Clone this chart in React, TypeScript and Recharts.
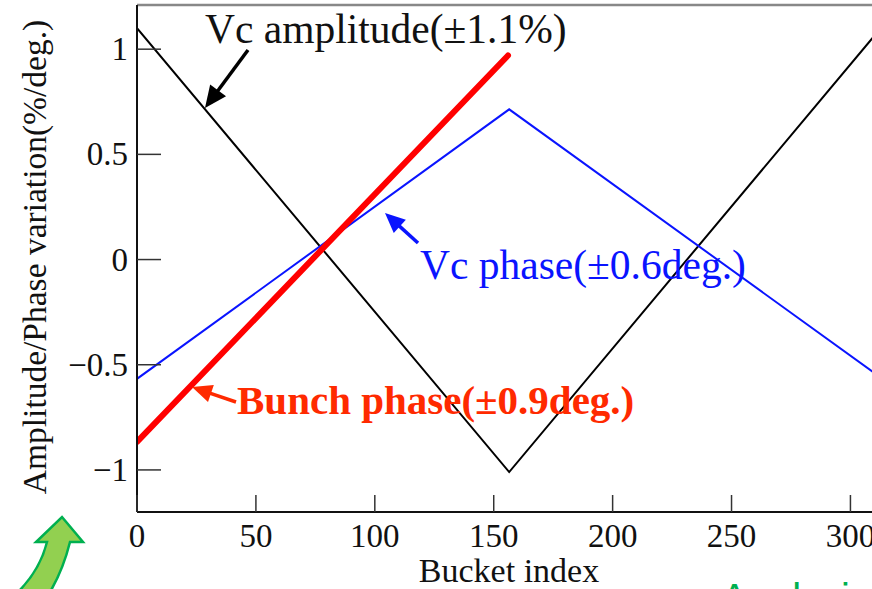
import React from "react";
import { LineChart, Line, XAxis, YAxis, ReferenceLine } from "recharts";

// values (bucket index -> variation in % or deg.)
const bucketTicks = [0, 50, 100, 150, 200, 250, 300];
const variationTicks = [-1, -0.5, 0, 0.5, 1];

const amplitudeBucket = [0, 156.5, 312];
const amplitudeValue = [1.1, -1.01, 1.09];

const vcPhaseBucket = [0, 156.5, 312];
const vcPhaseValue = [-0.567, 0.714, -0.555];

const bunchPhaseBucket = [0, 156];
const bunchPhaseValue = [-0.867, 0.97];

const SERIF = "'Liberation Serif', 'DejaVu Serif', serif";

const toPoints = (xs: number[], ys: number[]) => xs.map((x, i) => ({ x, y: ys[i] }));

const fmt = (v: number) => (v < 0 ? "\u2212" + Math.abs(v) : String(v));

function YTick(props: any) {
  const { x, y, payload } = props;
  return (
    <g>
      <line x1={x + 9} x2={x + 33} y1={y} y2={y} stroke="#333" strokeWidth={1.5} />
      <text x={x} y={y} dy={11} textAnchor="end" fontFamily={SERIF} fontSize={33} fill="#111">
        {fmt(payload.value)}
      </text>
    </g>
  );
}

function XTick(props: any) {
  const { x, y, payload } = props;
  return (
    <g>
      <line x1={x} x2={x} y1={y - 8} y2={y - 25} stroke="#333" strokeWidth={1.5} />
      <text x={x} y={y} dy={27} textAnchor="middle" fontFamily={SERIF} fontSize={33} fill="#111">
        {payload.value}
      </text>
    </g>
  );
}

function Arrow({ x1, y1, x2, y2, color, width, head }: any) {
  const dx = x2 - x1;
  const dy = y2 - y1;
  const len = Math.hypot(dx, dy);
  const ux = dx / len;
  const uy = dy / len;
  const bx = x2 - ux * head;
  const by = y2 - uy * head;
  const hw = head * 0.45;
  return (
    <g>
      <line x1={x1} y1={y1} x2={bx + ux * 2} y2={by + uy * 2} stroke={color} strokeWidth={width} />
      <polygon
        points={`${x2},${y2} ${bx - uy * hw},${by + ux * hw} ${bx + uy * hw},${by - ux * hw}`}
        fill={color}
      />
    </g>
  );
}

export default function App() {
  return (
    <div
      style={{
        position: "fixed",
        left: 0,
        top: 0,
        width: 872,
        height: 589,
        overflow: "hidden",
        background: "#fff",
      }}
    >
      <LineChart width={900} height={589} margin={{ top: 5, right: 2, left: 0, bottom: 0 }}>
        <XAxis
          dataKey="x"
          type="number"
          domain={[0, 320]}
          ticks={bucketTicks}
          height={77}
          tickSize={0}
          tickMargin={8}
          tickLine={false}
          tick={<XTick />}
          axisLine={{ stroke: "#111", strokeWidth: 2 }}
          allowDataOverflow
        />
        <YAxis
          type="number"
          domain={[-1.2, 1.21]}
          ticks={variationTicks}
          width={137}
          tickSize={0}
          tickMargin={9}
          tickLine={false}
          tick={<YTick />}
          axisLine={{ stroke: "#111", strokeWidth: 2 }}
          allowDataOverflow
        />
        <ReferenceLine y={1.21} stroke="#888" strokeWidth={2.5} />
        <Line
          data={toPoints(amplitudeBucket, amplitudeValue)}
          dataKey="y"
          type="linear"
          stroke="#000"
          strokeWidth={2}
          dot={false}
          isAnimationActive={false}
        />
        <Line
          data={toPoints(vcPhaseBucket, vcPhaseValue)}
          dataKey="y"
          type="linear"
          stroke="#0a14ff"
          strokeWidth={2}
          dot={false}
          isAnimationActive={false}
        />
        <Line
          data={toPoints(bunchPhaseBucket, bunchPhaseValue)}
          dataKey="y"
          type="linear"
          stroke="#ff0000"
          strokeWidth={6}
          strokeLinecap="round"
          dot={false}
          isAnimationActive={false}
        />
      </LineChart>
      <svg
        width={872}
        height={589}
        style={{ position: "absolute", left: 0, top: 0, pointerEvents: "none" }}
      >
        <text
          transform="translate(46,257) rotate(-90)"
          textAnchor="middle"
          fontFamily={SERIF}
          fontSize={33.5}
          fill="#111"
        >
          Amplitude/Phase variation(%/deg.)
        </text>
        <text x={509} y={582} textAnchor="middle" fontFamily={SERIF} fontSize={34} fill="#111">
          Bucket index
        </text>

        <text x={205} y={43} fontFamily={SERIF} fontSize={41.5} fill="#111">
          Vc amplitude(±1.1%)
        </text>
        <Arrow x1={248} y1={50} x2={205} y2={108} color="#000" width={3.5} head={22} />

        <text x={420} y={279} fontFamily={SERIF} fontSize={41.5} fill="#0a14ff">
          Vc phase(±0.6deg.)
        </text>
        <Arrow x1={418} y1={243} x2={385} y2={213} color="#0a14ff" width={3.5} head={20} />

        <text x={237} y={414} fontFamily={SERIF} fontSize={41} fontWeight="bold" fill="#ff2a00">
          Bunch phase(±0.9deg.)
        </text>
        <Arrow x1={236} y1={402} x2={192} y2={387} color="#ff2a00" width={3.5} head={20} />

        <path
          d="M62,517 L83,542 L70,542 Q63,570 50,592 L18,592 Q40,570 47,542 L36,542 Z"
          fill="#92d050"
          stroke="#00b050"
          strokeWidth={2.5}
        />
        <text x={721} y={612} fontFamily="'Liberation Sans', Arial, sans-serif" fontSize={40} fill="#00b050">
          Analysis
        </text>
      </svg>
    </div>
  );
}
